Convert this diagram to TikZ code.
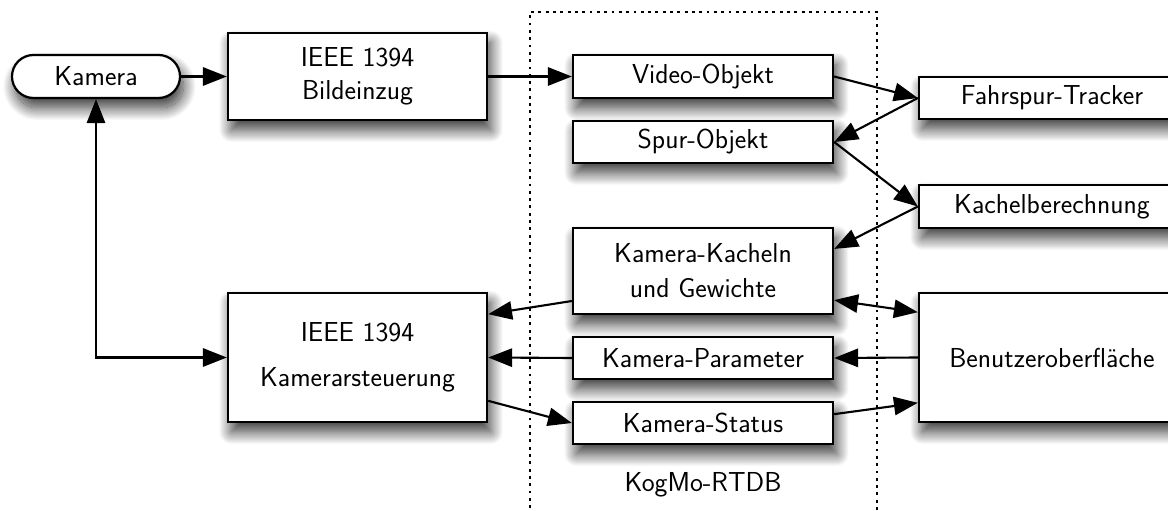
\documentclass[tikz,border=0pt]{standalone}
\usepackage{fontspec}
\usepackage{tikz}
\usetikzlibrary{arrows.meta,shapes.misc,shadows.blur,calc}

\begin{document}
\begin{tikzpicture}[x=0.025cm, y=-0.025cm,
    box/.style={draw, line width=1.6pt, fill=white, inner sep=0pt, align=center,
      font=\fontsize{19.5}{23.5}\selectfont\sffamily,
      blur shadow={shadow xshift=2.5pt, shadow yshift=-7pt, shadow blur radius=9pt, shadow blur steps=25, shadow opacity=80}},
    flow/.style={line width=1.5pt, -{Triangle[length=17pt,width=13pt]}},
    dflow/.style={line width=1.5pt, {Triangle[length=17pt,width=13pt]}-{Triangle[length=17pt,width=13pt]}},
    frame/.style={line width=1.4pt, dash pattern=on 2pt off 3.2pt}]
    \useasboundingbox (0,0) rectangle (1168,511);
    \clip (0,0) rectangle (1168,511);

    \draw[frame] (530,530) -- (530,12) -- (877,12) -- (877,530);

    \node[box, rounded rectangle, minimum width=4.2cm, minimum height=1.075cm] (kamera) at (96,76.5) {Kamera};
    \node[box, minimum width=6.475cm, minimum height=2.175cm] (bild) at (357.5,76.5) {IEEE 1394\\Bildeinzug};
    \node[box, minimum width=6.475cm, minimum height=3.225cm] (steuer) at (357.5,357.5) {IEEE 1394\\[8.5pt]Kamerarsteuerung};

    \node[box, minimum width=6.5cm, minimum height=1.075cm] (video) at (703,76.5) {Video-Objekt};
    \node[box, minimum width=6.5cm, minimum height=1.05cm] (spur) at (703,142) {Spur-Objekt};
    \node[box, minimum width=6.5cm, minimum height=2.15cm] (kacheln) at (703,271) {Kamera-Kacheln\\[1.5pt]und Gewichte};
    \node[box, minimum width=6.5cm, minimum height=1.05cm] (param) at (703,358) {Kamera-Parameter};
    \node[box, minimum width=6.5cm, minimum height=1.05cm] (status) at (703,423) {Kamera-Status};
    \node[font=\fontsize{19.5}{23.5}\selectfont\sffamily] (rtdb) at (703,485) {KogMo-RTDB};

    \node[box, minimum width=6.65cm, minimum height=1.05cm] (tracker) at (1052,98) {Fahrspur-Tracker};
    \node[box, minimum width=6.65cm, minimum height=1.075cm] (kachelb) at (1052,206.5) {Kachelberechnung};
    \node[box, minimum width=6.65cm, minimum height=3.225cm] (benutzer) at (1052,357.5) {Benutzeroberfläche};

    \draw[flow] (kamera.east) -- (bild.west);
    \draw[flow] (bild.east) -- (video.west);
    \draw[flow] (video.east) -- (tracker.west);
    \draw[flow] (tracker.west) -- (spur.east);
    \draw[flow] (spur.east) -- (kachelb.west);
    \draw[flow] (kachelb.west) -- ($(kacheln.north east)!0.25!(kacheln.south east)$);
    \draw[flow] ($(kacheln.north west)!0.84!(kacheln.south west)$) -- ($(steuer.north east)!0.17!(steuer.south east)$);
    \draw[flow] (param.west) -- (steuer.east);
    \draw[flow] ($(steuer.north east)!0.83!(steuer.south east)$) -- (status.west);
    \draw[dflow] ($(kacheln.north east)!0.83!(kacheln.south east)$) -- ($(benutzer.north west)!0.155!(benutzer.south west)$);
    \draw[flow] (benutzer.west) -- (param.east);
    \draw[flow] ($(status.north east)!0.3!(status.south east)$) -- ($(benutzer.north west)!0.845!(benutzer.south west)$);
    \draw[dflow] (kamera.south) |- (steuer.west);
\end{tikzpicture}
\end{document}
